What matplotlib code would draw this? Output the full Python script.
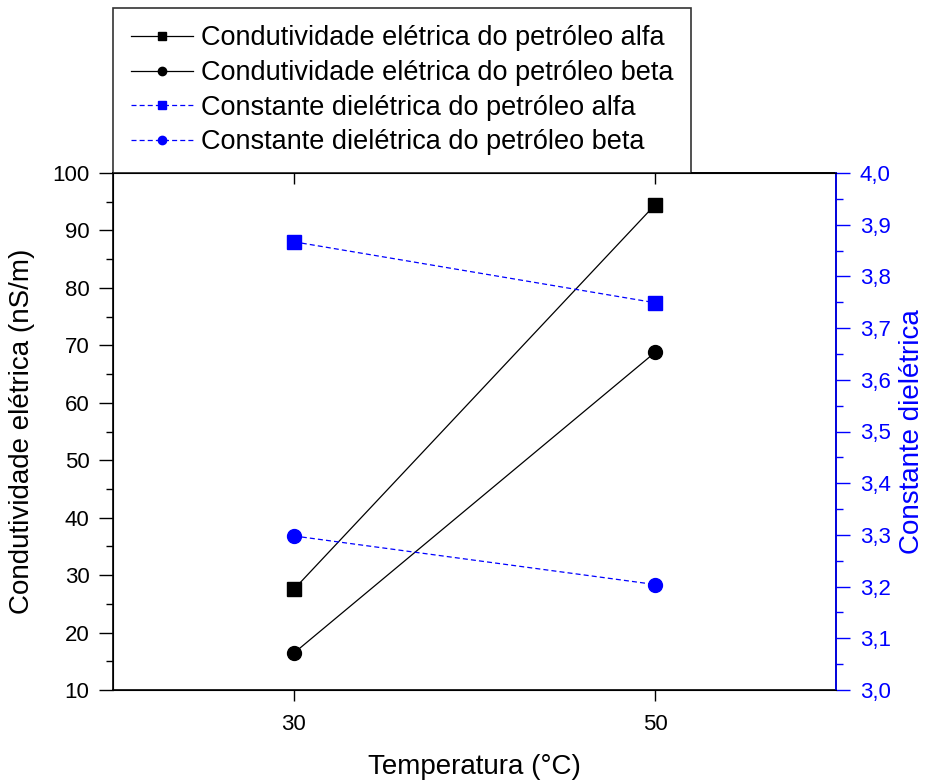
import matplotlib
matplotlib.use("Agg")
import matplotlib.pyplot as plt
from matplotlib.ticker import MultipleLocator, FuncFormatter

plt.rcParams["font.family"] = ["Liberation Sans", "DejaVu Sans"]

# measured values
temperatura = [30, 50]
cond_alfa = [27.5, 94.5]
cond_beta = [16.4, 68.8]
diel_alfa = [3.867, 3.749]
diel_beta = [3.298, 3.204]

blue = "#0000FF"

fig = plt.figure(figsize=(9.28, 7.8), dpi=100)
ax = fig.add_axes([113 / 928, 90 / 780, 723 / 928, 517 / 780])
ax2 = ax.twinx()

l1, = ax.plot(temperatura, cond_alfa, color="black", lw=0.9, marker="s",
              ms=10, label="Condutividade elétrica do petróleo alfa")
l2, = ax.plot(temperatura, cond_beta, color="black", lw=0.9, marker="o",
              ms=10, label="Condutividade elétrica do petróleo beta")
l3, = ax2.plot(temperatura, diel_alfa, color=blue, lw=0.9, marker="s",
               ms=10, dashes=(4, 2.5), label="Constante dielétrica do petróleo alfa")
l4, = ax2.plot(temperatura, diel_beta, color=blue, lw=0.9, marker="o",
               ms=10, dashes=(4, 2.5), label="Constante dielétrica do petróleo beta")

ax.set_xlim(20, 60)
ax.set_ylim(10, 100)
ax2.set_ylim(3.0, 4.0)

ax.set_xticks(temperatura)
ax.yaxis.set_major_locator(MultipleLocator(10))
ax.yaxis.set_minor_locator(MultipleLocator(5))
ax2.yaxis.set_major_locator(MultipleLocator(0.1))
ax2.yaxis.set_minor_locator(MultipleLocator(0.05))
ax2.yaxis.set_major_formatter(FuncFormatter(lambda v, p: f"{v:.1f}".replace(".", ",")))

ax.tick_params(axis="y", which="major", direction="out", length=10, width=1,
               labelsize=16, pad=7)
ax.tick_params(axis="y", which="minor", direction="out", length=5, width=1)
ax.tick_params(axis="x", which="major", direction="out", length=8, width=1,
               labelsize=16, pad=9, top=False)
ax2.tick_params(axis="y", which="major", direction="out", length=10, width=1,
                labelsize=16, pad=7, colors=blue)
ax2.tick_params(axis="y", which="minor", direction="out", length=5, width=1,
                colors=blue)

# top ticks point inward
sec = ax.secondary_xaxis("top")
sec.set_xticks(temperatura)
sec.tick_params(direction="in", length=8, width=1, labeltop=False)

for sp in ax.spines.values():
    sp.set_linewidth(1.2)
ax2.spines["right"].set_color(blue)
ax2.spines["right"].set_linewidth(1.2)
sec.spines["top"].set_linewidth(1.2)

ax.set_xlabel("Temperatura (°C)", fontsize=20, labelpad=14)
ax.set_ylabel("Condutividade elétrica (nS/m)", fontsize=20, labelpad=12)
ax2.set_ylabel("Constante dielétrica", fontsize=20, color=blue, labelpad=6)

leg = ax.legend(handles=[l1, l2, l3, l4], loc="lower left",
                bbox_to_anchor=(0, 1), borderaxespad=0, fontsize=19.5,
                frameon=True, fancybox=False, edgecolor="black",
                handlelength=2.3, handletextpad=0.3, labelspacing=0.32,
                borderpad=0.65, markerscale=0.6)
leg.get_frame().set_linewidth(1.2)

fig.savefig("out.png", dpi=100)
